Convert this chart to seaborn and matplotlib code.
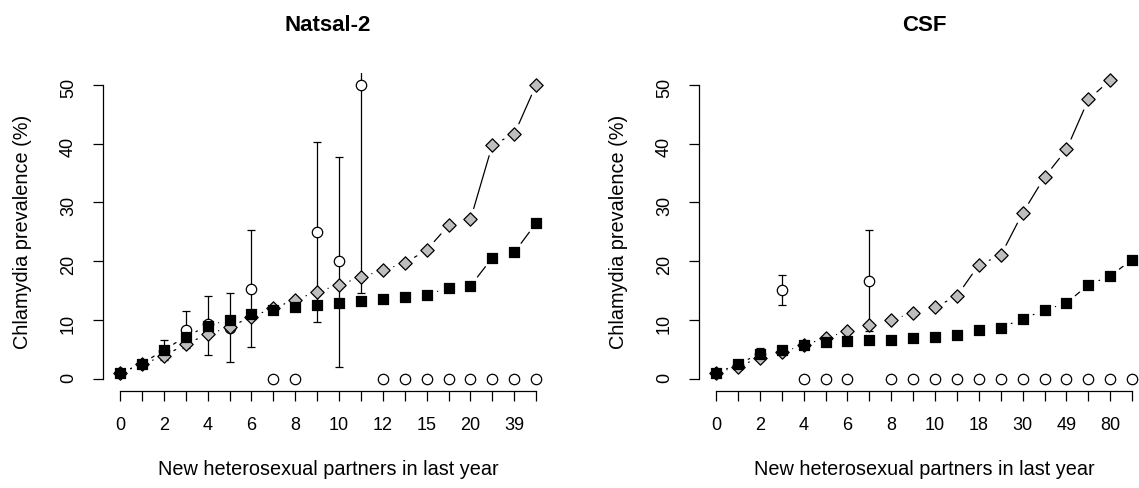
import numpy as np
import pandas as pd
import matplotlib
matplotlib.use('Agg')
import matplotlib.pyplot as plt
import seaborn as sns

nan = np.nan

# Natsal-2 panel
natsal_partners = ['0', '1', '2', '3', '4', '5', '6', '7', '8', '9', '10', '11',
                   '12', '13', '15', '17', '20', '25', '39', '50']
natsal_observed = [1.0, 2.5, 4.8, 8.4, 9.3, 8.6, 15.3, 0, 0, 24.9, 20.0, 49.9,
                   0, 0, 0, 0, 0, 0, 0, 0]
natsal_obs_low = [nan, nan, 3.2, 5.2, 4.0, 2.9, 5.4, nan, nan, 9.6, 2.1, 14.6,
                  nan, nan, nan, nan, nan, nan, nan, nan]
natsal_obs_high = [nan, nan, 6.6, 11.6, 14.1, 14.6, 25.3, nan, nan, 40.3, 37.8, 62.0,
                   nan, nan, nan, nan, nan, nan, nan, nan]
natsal_model_sq = [1.0, 2.6, 4.9, 7.2, 9.0, 10.1, 11.0, 11.8, 12.2, 12.5, 12.9, 13.3,
                   13.6, 13.9, 14.3, 15.5, 15.8, 20.6, 21.5, 26.5]
natsal_model_dm = [1.0, 2.5, 3.9, 5.9, 7.6, 8.8, 10.6, 12.0, 13.5, 14.8, 16.0, 17.3,
                   18.5, 19.7, 21.9, 26.1, 27.1, 39.8, 41.6, 50.0]

# CSF panel
csf_partners = ['0', '1', '2', '3', '4', '5', '6', '7', '8', '9', '10', '14',
                '18', '24', '30', '40', '49', '60', '80', '100']
csf_observed = [1.0, 2.4, 4.3, 15.2, 0, 0, 0, 16.6, 0, 0, 0, 0,
                0, 0, 0, 0, 0, 0, 0, 0]
csf_obs_low = [nan, nan, 3.6, 12.5, nan, nan, nan, 8.2, nan, nan, nan, nan,
               nan, nan, nan, nan, nan, nan, nan, nan]
csf_obs_high = [nan, nan, 5.2, 17.7, nan, nan, nan, 25.3, nan, nan, nan, nan,
                nan, nan, nan, nan, nan, nan, nan, nan]
csf_model_sq = [1.0, 2.5, 4.3, 4.9, 5.7, 6.2, 6.4, 6.6, 6.7, 6.9, 7.1, 7.4,
                8.3, 8.7, 10.2, 11.7, 12.9, 16.0, 17.5, 20.3]
csf_model_dm = [1.0, 2.1, 3.6, 4.6, 5.7, 7.0, 8.1, 9.1, 10.1, 11.2, 12.2, 14.1,
                19.4, 21.0, 28.2, 34.3, 39.0, 47.5, 50.8, nan]

sns.set_style('white')
plt.rcParams['font.family'] = ['Liberation Sans', 'DejaVu Sans']
plt.rcParams['text.color'] = 'black'
plt.rcParams['axes.labelcolor'] = 'black'
plt.rcParams['xtick.color'] = 'black'
plt.rcParams['ytick.color'] = 'black'


def gapped_line(ax, xs, ys, gap=11.4):
    # R type="b": segments between points, with a gap around each point
    pts = ax.transData.transform(np.column_stack([xs, ys]))
    inv = ax.transData.inverted()
    for (x0, y0), (x1, y1) in zip(pts[:-1], pts[1:]):
        if np.isnan([x0, y0, x1, y1]).any():
            continue
        d = np.hypot(x1 - x0, y1 - y0)
        if d <= 2 * gap:
            continue
        ux, uy = (x1 - x0) / d, (y1 - y0) / d
        seg = inv.transform([[x0 + ux * gap, y0 + uy * gap],
                             [x1 - ux * gap, y1 - uy * gap]])
        ax.plot(seg[:, 0], seg[:, 1], color='black', lw=0.9, zorder=2)


def panel(ax, title, partners, observed, low, high, model_sq, model_dm):
    df = pd.DataFrame({'pos': np.arange(len(partners)), 'obs': observed,
                       'lo': low, 'hi': high, 'sq': model_sq, 'dm': model_dm})
    ax.set_xlim(-0.76, len(partners) - 1 + 0.76)
    ax.set_ylim(-2, 52)

    eb = df.dropna(subset=['lo'])
    ax.errorbar(eb['pos'], eb['obs'], yerr=[eb['obs'] - eb['lo'], eb['hi'] - eb['obs']],
                fmt='none', ecolor='black', elinewidth=0.9, capsize=2.6, capthick=0.9, zorder=1)
    sns.scatterplot(data=df, x='pos', y='obs', marker='o', s=56, color='white',
                    edgecolor='black', linewidth=0.9, ax=ax, zorder=3)
    gapped_line(ax, df['pos'], df['dm'])
    gapped_line(ax, df['pos'], df['sq'])
    sns.scatterplot(data=df, x='pos', y='dm', marker='D', s=46, color='#BEBEBE',
                    edgecolor='black', linewidth=0.9, ax=ax, zorder=4)
    sns.scatterplot(data=df, x='pos', y='sq', marker='s', s=60, color='black',
                    edgecolor='black', linewidth=0.9, ax=ax, zorder=5)

    ax.set_xticks(df['pos'])
    ax.set_xticklabels([p if i % 2 == 0 else '' for i, p in enumerate(partners)])
    ax.set_yticks([0, 10, 20, 30, 40, 50])
    ax.tick_params(axis='both', direction='out', length=7.5, width=0.9, pad=11.5,
                   labelsize=13, color='black', labelcolor='black', bottom=True, left=True)
    ax.tick_params(axis='y', labelrotation=90)
    for side in ['top', 'right']:
        ax.spines[side].set_visible(False)
    ax.spines['left'].set_bounds(0, 50)
    ax.spines['bottom'].set_bounds(0, len(partners) - 1)
    for side in ['left', 'bottom']:
        ax.spines[side].set_linewidth(0.9)
        ax.spines[side].set_color('black')

    ax.set_xlabel('New heterosexual partners in last year', fontsize=14.3, va='center',
                  color='black')
    ax.xaxis.set_label_coords(0.5, -0.2496)
    ax.set_ylabel('Chlamydia prevalence (%)', fontsize=14.3, va='center', color='black')
    ax.yaxis.set_label_coords(-0.181, 0.5)
    ax.text(0.5, 1.151, title, transform=ax.transAxes, ha='center', va='center',
            fontsize=16, fontweight='bold', color='black')


fig = plt.figure(figsize=(11.39, 4.88), dpi=100)
ax1 = fig.add_axes([0.09078, 0.19939, 0.39456, 0.65102])
ax2 = fig.add_axes([0.61405, 0.19939, 0.39456, 0.65102])

panel(ax1, 'Natsal-2', natsal_partners, natsal_observed, natsal_obs_low, natsal_obs_high,
      natsal_model_sq, natsal_model_dm)
panel(ax2, 'CSF', csf_partners, csf_observed, csf_obs_low, csf_obs_high,
      csf_model_sq, csf_model_dm)

fig.savefig('out.png', dpi=100, facecolor='white')
